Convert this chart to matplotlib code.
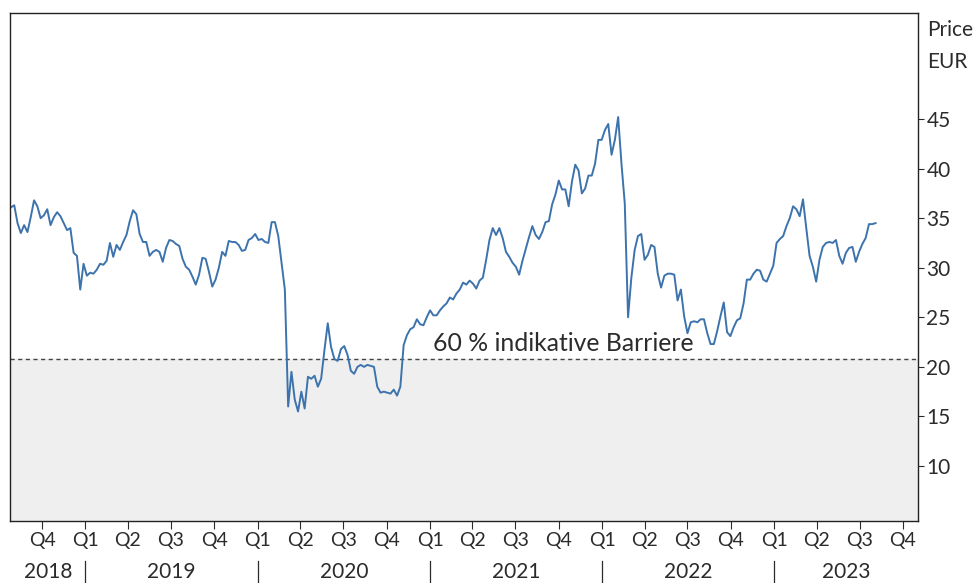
import matplotlib
matplotlib.use("Agg")
import matplotlib.pyplot as plt
import pandas as pd
from matplotlib.lines import Line2D

plt.rcParams['font.family'] = ['Lato', 'DejaVu Sans']

# weekly closing prices (EUR)
prices = [
    36.1, 36.3, 34.5, 33.5, 34.3, 33.6, 35.1, 36.8, 36.2, 35.0,
    35.3, 35.9, 34.3, 35.1, 35.6, 35.2, 34.5, 33.8, 34.0, 31.5,
    31.2, 27.8, 30.4, 29.2, 29.5, 29.4, 29.8, 30.4, 30.3, 30.7,
    32.5, 31.1, 32.3, 31.8, 32.6, 33.3, 34.7, 35.8, 35.4, 33.4,
    32.6, 32.6, 31.2, 31.6, 31.8, 31.6, 30.6, 32.0, 32.8, 32.7,
    32.4, 32.2, 30.9, 30.1, 29.8, 29.1, 28.3, 29.3, 31.0, 30.9,
    29.6, 28.1, 28.8, 30.0, 31.6, 31.2, 32.7, 32.6, 32.6, 32.3,
    31.7, 31.8, 32.8, 33.0, 33.4, 32.8, 32.9, 32.6, 32.5, 34.6,
    34.6, 33.2, 30.5, 27.8, 16.0, 19.5, 16.7, 15.5, 17.5, 15.8,
    19.0, 18.8, 19.1, 18.0, 18.8, 21.7, 24.4, 22.0, 20.8, 20.6,
    21.8, 22.1, 21.2, 19.6, 19.3, 20.0, 20.2, 20.0, 20.2, 20.1,
    20.0, 18.0, 17.4, 17.5, 17.4, 17.3, 17.7, 17.1, 18.0, 22.2,
    23.2, 23.8, 24.0, 24.8, 24.3, 24.2, 25.0, 25.7, 25.2, 25.2,
    25.7, 26.1, 26.4, 27.0, 26.8, 27.4, 27.8, 28.5, 28.3, 28.7,
    28.4, 27.9, 28.7, 29.0, 30.8, 32.8, 34.0, 33.3, 34.0, 33.0,
    31.6, 31.1, 30.5, 30.1, 29.3, 30.7, 31.9, 33.1, 34.2, 33.3,
    32.9, 33.6, 34.6, 34.7, 36.4, 37.4, 38.8, 37.9, 37.9, 36.2,
    38.7, 40.4, 39.8, 37.5, 38.0, 39.3, 39.3, 40.5, 42.9, 42.9,
    43.9, 44.5, 41.4, 42.9, 45.2, 40.5, 36.5, 25.0, 29.0, 31.8,
    33.2, 33.4, 30.8, 31.3, 32.3, 32.1, 29.4, 28.0, 29.2, 29.4,
    29.4, 29.3, 26.7, 27.8, 25.1, 23.4, 24.5, 24.6, 24.5, 24.8,
    24.8, 23.4, 22.3, 22.3, 23.6, 25.1, 26.5, 23.5, 23.1, 24.0,
    24.7, 24.9, 26.4, 28.8, 28.8, 29.4, 29.8, 29.7, 28.8, 28.6,
    29.4, 30.2, 32.5, 32.9, 33.2, 34.2, 35.0, 36.2, 35.9, 35.2,
    36.9, 34.0, 31.2, 30.1, 28.6, 30.8, 32.1, 32.5, 32.6, 32.5,
    32.8, 31.2, 30.4, 31.5, 32.0, 32.1, 30.6, 31.6, 32.4, 33.0,
    34.4, 34.4, 34.5,
]
dates = pd.date_range("2018-07-27", periods=len(prices), freq="W-FRI")

barrier = 20.8
barrier_label = "60 % indikative Barriere"
y_ticks = [10, 15, 20, 25, 30, 35, 40, 45]
years = [2018, 2019, 2020, 2021, 2022, 2023]

x_start = pd.Timestamp("2018-07-25")
x_end = pd.Timestamp("2023-11-02")
y_min, y_max = 4.45, 55.7

text_col = "#2b2b2b"
line_col = "#3d73ad"

fig = plt.figure(figsize=(9.76, 5.83), dpi=100)
ax = fig.add_axes([10 / 976, 1 - 521 / 583, 908 / 976, 508 / 583])

ax.axhspan(y_min, barrier, color="#efefef", zorder=0)
ax.axhline(barrier, color="#444444", lw=1.0, ls=(0, (3, 2.5)), zorder=1)
ax.plot(dates, prices, color=line_col, lw=1.4, zorder=2)
ax.text(pd.Timestamp("2021-01-08"), barrier + 0.8, barrier_label,
        fontsize=17.8, color=text_col, va="baseline", ha="left")

ax.set_xlim(x_start, x_end)
ax.set_ylim(y_min, y_max)

# right hand price axis
ax.yaxis.tick_right()
ax.set_yticks(y_ticks)
ax.tick_params(axis="y", length=4, width=0.8, colors=text_col, labelsize=15, pad=2)

# quarter ticks
quarters = pd.date_range("2018-10-01", "2023-10-01", freq="QS")
ax.set_xticks(quarters)
ax.set_xticklabels([f"Q{q.quarter}" for q in quarters])
ax.tick_params(axis="x", length=6, width=0.8, colors=text_col, labelsize=14, pad=2)

for s in ax.spines.values():
    s.set_color("#222222")
    s.set_linewidth(1.0)

# year labels with separators
trans = ax.get_xaxis_transform()
for yr in years:
    left = max(pd.Timestamp(f"{yr}-01-01"), x_start)
    right = min(pd.Timestamp(f"{yr + 1}-01-01"), x_end)
    mid = left + (right - left) / 2
    ax.text(mid, -0.101, str(yr), transform=trans, ha="center", va="center",
            fontsize=15, color=text_col)
    if yr > years[0]:
        jan = pd.Timestamp(f"{yr}-01-01")
        ax.add_line(Line2D([jan, jan], [-0.078, -0.122], transform=trans,
                           color=text_col, lw=0.9, clip_on=False))

fig.text(927 / 976, 1 - 30 / 583, "Price", fontsize=15, color=text_col,
         ha="left", va="center")
fig.text(927 / 976, 1 - 62 / 583, "EUR", fontsize=15, color=text_col,
         ha="left", va="center")

fig.savefig("out.png", dpi=100)
